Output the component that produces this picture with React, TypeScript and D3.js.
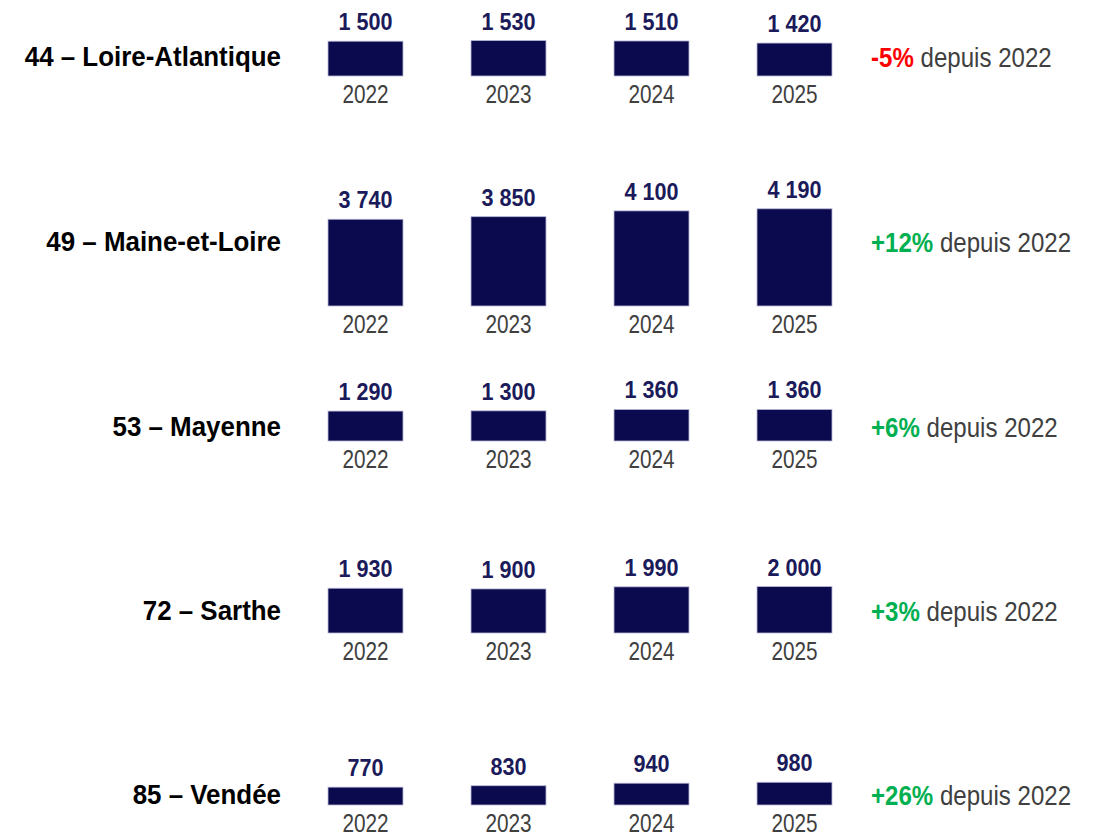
import React from "react";
import * as d3 from "d3";

// Data
const years = ["2022", "2023", "2024", "2025"];
const departments = [
  "44 – Loire-Atlantique",
  "49 – Maine-et-Loire",
  "53 – Mayenne",
  "72 – Sarthe",
  "85 – Vendée",
];
const loireAtlantique = [1500, 1530, 1510, 1420];
const maineEtLoire = [3740, 3850, 4100, 4190];
const mayenne = [1290, 1300, 1360, 1360];
const sarthe = [1930, 1900, 1990, 2000];
const vendee = [770, 830, 940, 980];
const changes = [-5, 12, 6, 3, 26];

const series = [loireAtlantique, maineEtLoire, mayenne, sarthe, vendee];

// Layout
const baselines = [76, 306, 441, 633, 805];
const labelCenters = [57, 242, 427, 611, 795];

const FONT = "'Liberation Sans Narrow', 'Arial Narrow', 'Liberation Sans', Arial, sans-serif";

const fr = d3.formatLocale({
  decimal: ",",
  thousands: " ",
  grouping: [3],
  currency: ["", " €"],
});
const fmt = fr.format(",");

// condensed text helper (no narrow font installed)
const narrow = (x: number, y: number, sx: number) => `translate(${x},${y}) scale(${sx},1)`;

const App: React.FC = () => {
  const width = 1099;
  const height = 834;

  const xScale = d3.scaleBand<string>().domain(years).range([328, 832]).paddingInner(68 / 143).paddingOuter(0);
  // pixels per unit, same for every row
  const hScale = d3.scaleLinear().domain([0, 1000]).range([0, 23.2]);

  return (
    <svg
      width={width}
      height={height}
      style={{ position: "absolute", left: 0, top: 0, fontFamily: FONT }}
    >
      <rect width={width} height={height} fill="#ffffff" />
      {series.map((values, r) => {
        const base = baselines[r];
        const change = changes[r];
        return (
          <g key={departments[r]} className="row">
            <text
              transform={narrow(281, labelCenters[r], 0.96)}
              textAnchor="end"
              dominantBaseline="central"
              fontSize={27}
              fontWeight="bold"
              fill="#000000"
            >
              {departments[r]}
            </text>
            {values.map((v, i) => {
              const x = xScale(years[i])!;
              const h = hScale(v);
              const cx = x + xScale.bandwidth() / 2;
              return (
                <g key={years[i]}>
                  <rect
                    x={x}
                    y={base - h}
                    width={xScale.bandwidth()}
                    height={h}
                    fill="#0b0a4f"
                    stroke="#b9b8d6"
                    strokeWidth={0.8}
                  />
                  <text
                    transform={narrow(cx, base - h - 11, 0.9)}
                    textAnchor="middle"
                    fontSize={24}
                    fontWeight="bold"
                    fill="#1b1a5a"
                  >
                    {fmt(v)}
                  </text>
                  <text
                    transform={narrow(cx, base + 26.5, 0.83)}
                    textAnchor="middle"
                    fontSize={25}
                    fill="#404040"
                  >
                    {years[i]}
                  </text>
                </g>
              );
            })}
            <text
              transform={narrow(871, labelCenters[r], 0.86)}
              dominantBaseline="central"
              fontSize={28}
              fill="#404040"
            >
              <tspan fontWeight="bold" fill={change < 0 ? "#ff0000" : "#00b050"}>
                {(change > 0 ? "+" : "") + change + "%"}
              </tspan>
              <tspan> depuis 2022</tspan>
            </text>
          </g>
        );
      })}
    </svg>
  );
};

export default App;
